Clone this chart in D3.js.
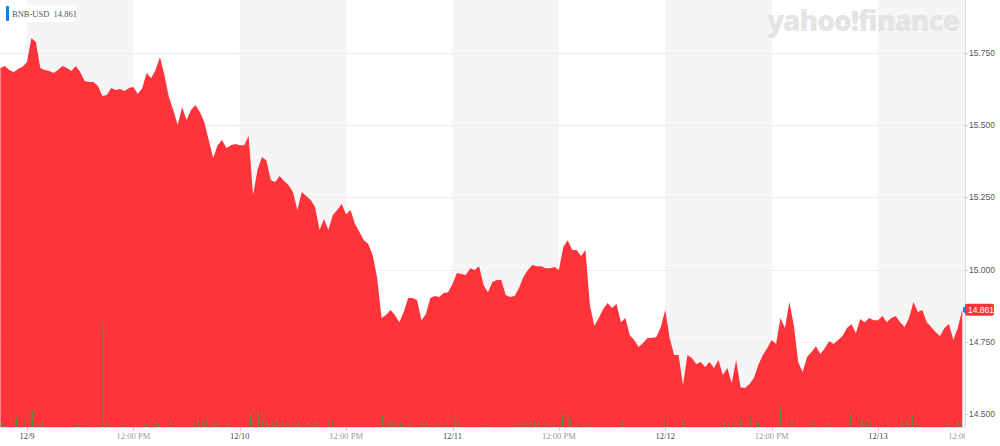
<!DOCTYPE html>
<html>
<head>
<meta charset="utf-8">
<script src="https://cdn.jsdelivr.net/npm/d3@7"></script>
<style>
  html, body { margin: 0; padding: 0; background: #fff; }
  svg { display: block; }
</style>
</head>
<body>
<svg id="chart" width="1000" height="446"></svg>
<script>
// BNB-USD, 30 minute closes starting 12/8 21:00
const symbol = "BNB-USD";
const lastPrice = 14.861;
const startTime = Date.UTC(2019, 11, 8, 21, 0);
const stepMinutes = 30;
const prices = [
  15.698, 15.705, 15.691, 15.684, 15.695, 15.702, 15.719, 15.802, 15.788, 15.698,
  15.691, 15.688, 15.681, 15.691, 15.705, 15.698, 15.688, 15.705, 15.684, 15.653,
  15.650, 15.650, 15.636, 15.601, 15.605, 15.629, 15.622, 15.625, 15.618, 15.629,
  15.632, 15.608, 15.629, 15.681, 15.663, 15.691, 15.736, 15.674, 15.598, 15.553,
  15.501, 15.563, 15.518, 15.553, 15.570, 15.546, 15.511, 15.449, 15.386, 15.431,
  15.449, 15.421, 15.431, 15.435, 15.431, 15.431, 15.463, 15.258, 15.345, 15.390,
  15.379, 15.310, 15.303, 15.324, 15.307, 15.293, 15.269, 15.206, 15.269, 15.255,
  15.241, 15.217, 15.137, 15.175, 15.137, 15.189, 15.206, 15.227, 15.192, 15.206,
  15.158, 15.130, 15.102, 15.089, 15.050, 14.971, 14.832, 14.843, 14.860, 14.843,
  14.818, 14.853, 14.902, 14.902, 14.895, 14.825, 14.846, 14.902, 14.909, 14.905,
  14.919, 14.922, 14.950, 14.988, 14.985, 14.981, 15.005, 14.999, 15.012, 14.947,
  14.922, 14.957, 14.964, 14.964, 14.912, 14.905, 14.909, 14.936, 14.974, 14.999,
  15.016, 15.012, 15.012, 15.005, 15.005, 15.009, 14.999, 15.078, 15.102, 15.068,
  15.068, 15.047, 15.068, 14.877, 14.805, 14.832, 14.864, 14.884, 14.867, 14.881,
  14.818, 14.832, 14.773, 14.756, 14.732, 14.746, 14.763, 14.763, 14.767, 14.801,
  14.860, 14.763, 14.704, 14.704, 14.600, 14.704, 14.694, 14.673, 14.680, 14.663,
  14.680, 14.659, 14.687, 14.635, 14.659, 14.607, 14.687, 14.593, 14.590, 14.604,
  14.625, 14.670, 14.704, 14.728, 14.756, 14.742, 14.832, 14.798, 14.888, 14.808,
  14.680, 14.645, 14.697, 14.715, 14.735, 14.708, 14.728, 14.753, 14.742, 14.756,
  14.770, 14.798, 14.812, 14.780, 14.829, 14.818, 14.832, 14.825, 14.825, 14.839,
  14.818, 14.832, 14.839, 14.818, 14.801, 14.832, 14.888, 14.853, 14.860, 14.818,
  14.801, 14.784, 14.770, 14.798, 14.812, 14.756, 14.798, 14.861
];

// volume bars: hours after start, volume (thousands)
const volumeHours = [
  0.2, 0.5, 1.8, 1.9, 2.8, 3.3, 3.6, 3.7, 4.2, 4.7, 8.7, 9.8, 11.6, 12.1, 13.8,
  15.2, 16.2, 16.5, 17.5, 17.8, 19.2, 20.3, 21.8, 22.3, 22.8, 23.2, 24.1, 24.6,
  25.6, 28.2, 28.5, 29.1, 29.6, 30.1, 30.7, 31.2, 31.8, 32.4, 33.1, 33.6, 34.7,
  35.5, 36.0, 37.1, 37.5, 38.4, 41.4, 43.1, 43.7, 44.1, 44.3, 45.1, 45.7, 46.2,
  47.5, 48.1, 49.4, 50.4, 51.3, 51.6, 54.9, 56.7, 58.3, 59.2, 59.9, 60.3, 60.7,
  61.5, 62.4, 63.4, 64.0, 64.3, 65.1, 65.8, 66.6, 70.2, 75.0, 77.0, 81.6, 82.1,
  82.9, 83.5, 84.6, 85.2, 85.5, 88.0, 89.3, 91.7, 93.4, 95.9, 97.2, 97.8, 98.1,
  100.1, 101.7, 102.3, 102.9, 103.8, 106.8, 108.0, 108.4
];
const volumes = [
  5, 3, 11, 8, 10, 13, 15, 17, 5, 5, 3, 3, 105, 3, 3,
  2, 3, 3, 5, 4, 5, 2, 4, 7, 5, 8, 4, 4,
  3, 14, 7, 15, 7, 5, 5, 7, 4, 5, 3, 5, 5,
  4, 3, 6, 6, 2, 2, 11, 4, 6, 6, 5, 3, 3,
  4, 5, 5, 4, 12, 5, 3, 2, 3, 6, 5, 5, 5,
  3, 3, 13, 12, 7, 3, 3, 3, 7, 11, 7, 5, 3,
  5, 7, 9, 4, 5, 19, 7, 6, 4, 13, 8, 9, 7,
  4, 5, 7, 12, 2, 3, 5, 5
];

const yTicks = [14.5, 14.75, 15.0, 15.25, 15.5, 15.75];
const dayLabels = ["12/9", "12/10", "12/11", "12/12", "12/13"];
const halfDayLabel = "12:00 PM";

const W = 1000, H = 446;
const plotRight = 965, plotBottom = 427;

const svg = d3.select("#chart");

const day = d => Date.UTC(2019, 11, d);
const x = d3.scaleUtc()
  .domain([day(9), day(13)])
  .range([27, 878]);
const y = d3.scaleLinear()
  .domain([14.5, 15.75])
  .range([414, 53]);
const vy = d3.scaleLinear()
  .domain([0, 100])
  .range([0, 100]);

const series = prices.map((p, i) => ({ t: startTime + i * stepMinutes * 60000, p }));

svg.append("defs").append("clipPath").attr("id", "plotClip")
  .append("rect").attr("x", 0).attr("y", 0).attr("width", plotRight).attr("height", H);

// alternating half-day background bands (midnight -> noon shaded)
const bandDays = [9, 10, 11, 12, 13];
svg.append("g").attr("clip-path", "url(#plotClip)")
  .selectAll("rect").data(bandDays).enter().append("rect")
  .attr("x", d => x(day(d)))
  .attr("y", 0)
  .attr("width", d => x(day(d) + 12 * 3600000) - x(day(d)))
  .attr("height", plotBottom)
  .attr("fill", "#f5f5f5");

// horizontal grid
svg.append("g").selectAll("line").data(yTicks).enter().append("line")
  .attr("x1", 0).attr("x2", plotRight)
  .attr("y1", d => Math.round(y(d)) + 0.5).attr("y2", d => Math.round(y(d)) + 0.5)
  .attr("stroke", "#ececec");

// watermark
svg.append("text")
  .attr("x", 767).attr("y", 31)
  .attr("textLength", 192)
  .attr("lengthAdjust", "spacingAndGlyphs")
  .style("font-family", "'Open Sans', 'Liberation Sans', sans-serif")
  .style("font-weight", 800)
  .style("font-size", "29px")
  .style("letter-spacing", "-1px")
  .attr("fill", "#e4e4e4")
  .text("yahoo!finance");

// price area
const area = d3.area()
  .x(d => x(d.t))
  .y0(plotBottom)
  .y1(d => y(d.p));
svg.append("path")
  .datum(series)
  .attr("clip-path", "url(#plotClip)")
  .attr("d", area)
  .attr("fill", "#ff333a");

// volume bars
svg.append("g").attr("clip-path", "url(#plotClip)")
  .selectAll("rect").data(volumeHours.map((h, i) => ({ t: startTime + h * 3600000, v: volumes[i] })))
  .enter().append("rect")
  .attr("x", d => x(d.t) - 0.6)
  .attr("width", 1.2)
  .attr("y", d => plotBottom - vy(d.v))
  .attr("height", d => vy(d.v))
  .attr("fill", "#4f8f45")
  .attr("opacity", 0.85);

// x axis baseline
svg.append("line")
  .attr("x1", 0).attr("x2", plotRight)
  .attr("y1", plotBottom + 0.5).attr("y2", plotBottom + 0.5)
  .attr("stroke", "#ddd");

// x axis labels (every 12h); the last one is pushed left and cut by the axis
const xTicks = d3.range(0, 10).map(i => day(9) + i * 12 * 3600000);
const xg = svg.append("g").attr("clip-path", "url(#plotClip)");
xg.selectAll("line").data(xTicks).enter().append("line")
  .attr("x1", d => Math.round(x(d)) + 0.5).attr("x2", d => Math.round(x(d)) + 0.5)
  .attr("y1", plotBottom).attr("y2", plotBottom + 4)
  .attr("stroke", "#ccc");
xg.selectAll("text").data(xTicks).enter().append("text")
  .attr("x", d => Math.min(x(d), 982))
  .attr("y", 439)
  .attr("text-anchor", d => x(d) > 982 - 16 ? "end" : "middle")
  .style("font-family", "'Liberation Serif', 'Times New Roman', serif")
  .style("font-size", "8.5px")
  .attr("fill", (d, i) => i % 2 === 0 ? "#444" : "#999")
  .text((d, i) => i % 2 === 0 ? dayLabels[i / 2] : halfDayLabel);

// right y axis
svg.append("line")
  .attr("x1", plotRight + 0.5).attr("x2", plotRight + 0.5)
  .attr("y1", 0).attr("y2", plotBottom)
  .attr("stroke", "#ddd");
const yg = svg.append("g");
yg.selectAll("line").data(yTicks).enter().append("line")
  .attr("x1", plotRight).attr("x2", plotRight + 3)
  .attr("y1", d => Math.round(y(d)) + 0.5).attr("y2", d => Math.round(y(d)) + 0.5)
  .attr("stroke", "#ccc");
yg.selectAll("text").data(yTicks).enter().append("text")
  .attr("x", 969)
  .attr("y", d => y(d) + 3)
  .style("font-family", "'Liberation Sans', Arial, sans-serif")
  .style("font-size", "8.5px")
  .attr("fill", "#555")
  .text(d => d3.format(".3f")(d));

// current price tag
const ly = y(lastPrice);
svg.append("rect")
  .attr("x", 965).attr("y", ly - 6).attr("width", 29).attr("height", 12).attr("rx", 2)
  .attr("fill", "#ff333a");
svg.append("text")
  .attr("x", 968).attr("y", ly + 3)
  .style("font-family", "'Liberation Sans', Arial, sans-serif")
  .style("font-size", "8.5px")
  .attr("fill", "#fff")
  .text(d3.format(".3f")(lastPrice));
svg.append("rect")
  .attr("x", 963).attr("y", ly - 3).attr("width", 3).attr("height", 6).attr("rx", 1.5)
  .attr("fill", "#0081f2");

// legend
svg.append("rect")
  .attr("x", 3).attr("y", 5).attr("width", 72).attr("height", 17).attr("rx", 3)
  .attr("fill", "#fff");
svg.append("rect")
  .attr("x", 6).attr("y", 6).attr("width", 3).attr("height", 15).attr("rx", 1)
  .attr("fill", "#0081f2");
svg.append("text")
  .attr("x", 12).attr("y", 16.5)
  .style("font-family", "'Liberation Serif', 'Times New Roman', serif")
  .style("font-size", "8.5px")
  .attr("fill", "#555")
  .text(symbol + "\u00a0\u00a0" + d3.format(".3f")(lastPrice));
</script>
</body>
</html>
